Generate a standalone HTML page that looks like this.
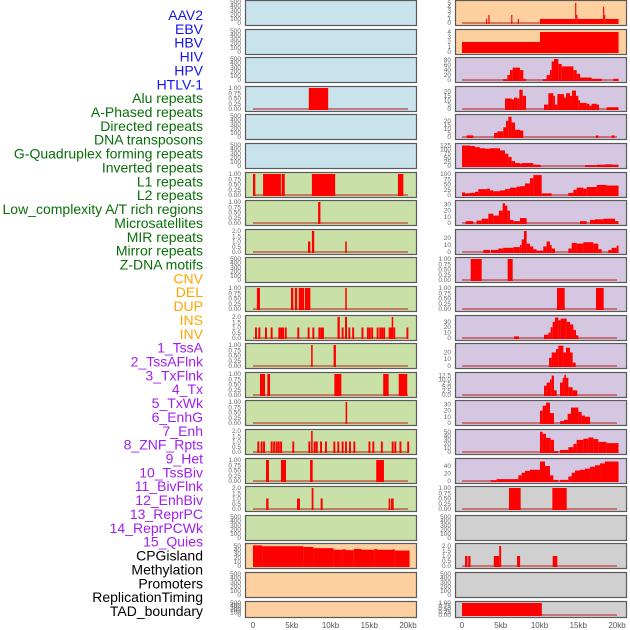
<!DOCTYPE html>
<html><head><meta charset="utf-8"><style>
html,body{margin:0;padding:0;background:#fff;}
svg{display:block;font-family:"Liberation Sans",sans-serif;}
</style></head><body>
<svg id="chart" width="630" height="630" viewBox="0 0 630 630"></svg>
<script>
const labelNames=["AAV2","EBV","HBV","HIV","HPV","HTLV-1","Alu repeats","A-Phased repeats","Directed repeats","DNA transposons","G-Quadruplex forming repeats","Inverted repeats","L1 repeats","L2 repeats","Low_complexity A/T rich regions","Microsatellites","MIR repeats","Mirror repeats","Z-DNA motifs","CNV","DEL","DUP","INS","INV","1_TssA","2_TssAFlnk","3_TxFlnk","4_Tx","5_TxWk","6_EnhG","7_Enh","8_ZNF_Rpts","9_Het","10_TssBiv","11_BivFlnk","12_EnhBiv","13_ReprPC","14_ReprPCWk","15_Quies","CPGisland","Methylation","Promoters","ReplicationTiming","TAD_boundary"];
const labelGroups=[6,13,5,15,5];
const groupColors=["#1515f0","#0a6e0a","#ffa500","#a020f0","#000000"];
const xTickLabels=["0","5kb","10kb","15kb","20kb"];
const xTickValues=[0,5,10,15,20];
const leftBg=["#c8e3eb","#c8e3eb","#c8e3eb","#c8e3eb","#c8e3eb","#c8e3eb","#c9e1a6","#c9e1a6","#c9e1a6","#c9e1a6","#c9e1a6","#c9e1a6","#c9e1a6","#c9e1a6","#c9e1a6","#c9e1a6","#c9e1a6","#c9e1a6","#c9e1a6","#fecf9f","#fecf9f","#fecf9f"];
const rightBg=["#fecf9f","#fecf9f","#d5c6e2","#d5c6e2","#d5c6e2","#d5c6e2","#d5c6e2","#d5c6e2","#d5c6e2","#d5c6e2","#d5c6e2","#d5c6e2","#d5c6e2","#d5c6e2","#d5c6e2","#d5c6e2","#d5c6e2","#d0d0d0","#d0d0d0","#d0d0d0","#d0d0d0","#d0d0d0"];
const E=null;
const leftMax=[E,E,E,1,E,E,1,1,2,E,1,2,1,1,1,2,1,2,E,53,E,E];
const leftTicks=[E,E,E,[0,0.25,0.5,0.75,1],E,E,[0,0.25,0.5,0.75,1],[0,0.25,0.5,0.75,1],[0,0.5,1,1.5,2],E,[0,0.25,0.5,0.75,1],[0,0.5,1,1.5,2],[0,0.25,0.5,0.75,1],[0,0.25,0.5,0.75,1],[0,0.25,0.5,0.75,1],[0,0.5,1,1.5,2],[0,0.25,0.5,0.75,1],[0,0.5,1,1.5,2],E,[0,10,20,30,40,50],E,E];
function spikes(list,v){return list.map(p=>[p,p+0.25,v]);}
const leftData=[[],[],[],[[7.2,9.7,1]],[],[],
[[0,0.3,1],[1.3,3.6,1],[3.7,4.1,1],[7.6,10.6,1],[18.7,19.4,1]],
[[8.4,8.7,1]],
[[7.1,7.4,1],[7.6,7.9,2],[11.9,12.1,1]],
[],
[[0.5,0.9,1],[4.9,5.2,1],[5.4,5.7,1],[5.9,6.6,1],[6.7,7.4,1],[11.9,12.1,1]],
spikes([0.26,0.69,1.55,2.28,3.27,3.5,3.75,4.1,5.72,7.05,7.66,8.44,8.7,8.9,11.44,12.3,12.8,14.0,14.7,14.95,15.25,15.96,16.3,16.55,16.8,17.5,17.75,18.1,19.8],1).concat([[10.9,11.2,2],[11.87,12.13,2],[17.9,18.1,2]]),
[[7.5,7.7,1],[10.4,10.7,1]],
[[0.9,1.55,1],[1.85,2.2,1],[10.5,11.4,1],[16.8,17.5,1],[18.8,19.9,1]],
[[11.95,12.15,1]],
spikes([0.56,0.99,1.3,2.28,2.6,2.92,3.2,3.5,5.07,7.14,7.83,8.1,8.65,9.29,10.37,10.88,11.44,11.87,12.39,12.95,14.9,15.4,16.5,17.9,18.24,18.9,19.9],1).concat([[7.5,7.7,2]]),
[[1.68,2.06,1],[3.61,4.26,1],[7.36,7.7,1],[15.9,16.9,1]],
[[1.7,2.0,1],[5.68,6.06,1],[7.57,7.8,2],[8.73,8.99,1],[17.5,17.7,1],[17.8,18.15,1]],
[],
[[0,1.2,52],[1.2,6.5,50],[6.5,7.8,48],[7.8,10.4,45],[10.4,11.5,41],[11.5,12,42],[12,13,40],[13,14,43],[14,15.7,41],[15.7,16,43],[16,18,41],[18,18.3,42],[18.3,20.2,39]],
[],[]];
const rightMax=[5.2,4.2,85,24,26,128,100,34,30,1,1,39,31,13.5,34,52,56,1,E,2.1,E,1];
const rightTicks=[[0,1,2,3,4,5],[0,1,2,3,4],[0,20,40,60,80],[0,5,10,15,20],[0,5,10,15,20],[0,25,50,75,100,125],[0,25,50,75,100],[0,10,20,30],[0,10,20],[0,0.25,0.5,0.75,1],[0,0.25,0.5,0.75,1],[0,10,20,30],[0,10,20],[0,2.5,5,7.5,10,12.5],[0,10,20,30],[0,10,20,30,40,50],[0,20,40],[0,0.25,0.5,0.75,1],E,[0,0.5,1,1.5,2],E,[0,0.25,0.5,0.75,1]];
const rightData=[
[[3.1,3.25,1],[3.4,3.55,2],[6.35,6.5,2],[7.2,7.35,1],[10.06,14.6,1],[14.6,14.75,5],[14.75,14.9,2],[14.9,18.2,1],[18.2,18.35,4],[18.35,18.5,2],[18.5,20.2,1]],
[[0,10.06,2],[10.06,20.2,4]],
[[5.33,5.85,3],[5.85,6.19,20],[6.19,6.54,40],[6.54,7.48,50],[7.48,7.91,40],[7.91,8.26,5],[10.41,10.92,3],[10.92,11.35,20],[11.35,11.57,40],[11.57,11.87,75],[11.87,12.43,85],[12.43,12.86,65],[12.86,14.37,55],[14.37,14.8,40],[14.8,15.23,25],[15.23,16.73,10],[16.73,18.02,5],[19.53,20.2,5]],
[[5.55,6.4,12],[6.4,6.71,11],[6.71,7.14,13],[7.14,7.4,12],[7.4,7.83,22],[7.83,8.26,15],[10.58,11.14,5],[11.14,11.78,18],[11.78,12.0,15],[12.0,12.3,5],[12.3,13.16,17],[13.16,13.42,13],[13.42,13.94,18],[13.94,14.19,15],[14.19,14.71,21],[14.71,15.01,15],[15.01,15.23,10],[15.23,16.09,7],[16.09,16.43,6],[16.43,16.73,4],[16.73,17.38,6],[17.38,17.68,5],[18.67,20.2,2]],
[[0.6,1.46,2],[4.13,4.56,5],[4.56,5.33,7],[5.33,5.68,12],[5.68,5.98,20],[5.98,6.4,25],[6.4,6.84,18],[6.84,7.48,9],[7.48,7.91,8],[17.29,17.59,2],[19.31,19.66,2]],
[[0,1.03,125],[1.03,1.68,122],[1.68,2.32,115],[2.32,2.97,108],[2.97,3.61,105],[3.61,4.9,108],[4.9,5.55,95],[5.55,5.98,75],[5.98,6.4,55],[6.4,6.84,30],[6.84,7.48,18],[7.48,7.7,15],[7.7,9.2,18],[9.2,10.06,8],[10.06,10.19,4],[15.87,17.38,5],[17.38,18.45,8],[18.45,19.44,10],[19.44,20.2,8]],
[[0,0.39,12],[0.39,1.03,8],[1.03,1.68,10],[1.68,2.1,15],[2.1,3.18,28],[3.18,3.61,30],[3.61,4.04,22],[4.04,4.9,18],[4.9,5.55,22],[5.55,6.19,28],[6.19,7.05,35],[7.05,7.48,40],[7.48,8.13,42],[8.13,8.77,55],[8.77,9.2,80],[9.2,10.28,95],[10.28,11.57,8],[13.72,14.37,10],[14.37,14.8,25],[14.8,15.66,35],[15.66,16.09,30],[16.09,17.38,38],[17.38,18.67,48],[18.67,20.2,45]],
[[0.47,1.46,3],[1.89,2.54,4],[2.54,3.4,7],[3.4,4.04,15],[4.04,4.77,12],[4.77,5.25,20],[5.25,5.55,32],[5.55,5.85,28],[5.85,6.19,20],[6.19,6.62,5],[6.62,7.48,3],[7.48,8.34,8],[15.23,16.09,3],[16.52,17.16,5],[17.16,18.24,6],[18.24,19.74,7],[19.74,20.2,3]],
[[2.75,3.61,3],[3.74,4.69,3],[4.69,5.33,5],[5.33,6.62,6],[6.62,7.48,7],[7.48,7.7,10],[7.7,8.0,18],[8.0,8.34,30],[8.34,8.77,12],[8.77,9.2,8],[9.2,9.63,4],[9.63,10.49,2],[10.49,10.92,8],[10.92,11.35,15],[11.35,11.57,10],[11.57,12.0,5],[13.72,14.15,5],[14.15,14.8,13],[14.8,15.66,12],[15.66,16.95,14],[16.95,17.59,12],[17.59,18.02,4],[18.88,19.31,3],[19.31,19.96,6],[19.96,20.2,9]],
[[1.12,2.54,1],[5.89,6.54,1]],
[[12.26,13.25,1],[17.29,18.28,1]],
[[6.71,7.35,3],[10.58,11.14,6],[11.14,11.44,10],[11.44,11.7,20],[11.7,12.0,30],[12.0,12.43,38],[12.43,12.73,33],[12.73,13.51,36],[13.51,13.94,30],[13.94,14.37,25],[14.37,14.71,15],[14.71,15.01,5]],
[[11.23,11.57,12],[11.57,12.13,20],[12.13,12.43,25],[12.43,13.08,30],[13.08,13.42,20],[13.42,13.94,27],[13.94,14.28,20],[14.28,14.67,5]],
[[10.58,10.92,6],[10.92,11.35,8],[11.35,11.57,10],[11.57,11.87,12.5],[11.87,12.22,3],[12.65,12.99,8],[12.99,13.2,11],[13.2,13.42,13],[13.42,13.72,11],[13.72,14.28,5],[14.28,14.88,3]],
[[10.06,10.41,20],[10.41,10.84,28],[10.84,11.35,33],[11.35,11.87,16],[12.65,13.16,3],[13.16,13.63,5],[13.63,14.06,15],[14.06,15.01,25],[15.01,15.44,18],[15.44,15.87,12],[15.87,16.52,10]],
[[10.06,10.41,50],[10.41,10.84,45],[10.84,11.44,35],[11.44,11.87,30],[11.87,12.43,2],[12.65,13.72,5],[13.72,14.37,12],[14.37,14.8,20],[14.8,15.66,30],[15.66,16.3,33],[16.3,16.95,36],[16.95,17.59,32],[17.59,18.67,25],[18.67,20.2,22]],
[[3.7,4.47,2],[4.47,7.27,5],[7.27,7.7,15],[7.7,8.13,22],[8.13,8.77,27],[8.77,10.06,30],[10.06,10.71,52],[10.71,11.35,40],[11.35,11.78,15],[11.78,12.43,3],[12.65,13.72,3],[13.72,14.15,12],[14.15,14.58,22],[14.58,15.23,28],[15.23,15.87,30],[15.87,16.52,33],[16.52,17.16,38],[17.16,17.81,42],[17.81,18.45,47],[18.45,20.2,52]],
[[6.06,7.57,1],[11.66,13.51,1]],
[],
[[0.39,0.7,1],[0.8,1.1,1],[4.1,4.8,1],[4.8,5.05,2],[7.1,7.5,1],[11.7,12.3,1]],
[],
[[0,10.3,1]]];

const NS="http://www.w3.org/2000/svg";
const svg=document.getElementById('chart');
function mk(tag,attrs,parent){const e=document.createElementNS(NS,tag);for(const k in attrs)e.setAttribute(k,attrs[k]);(parent||svg).appendChild(e);return e;}
const PITCH=28.6, PH=25;
const cols=[{px:245,pw:171,x0:253,bg:leftBg,max:leftMax,ticks:leftTicks,data:leftData,side:'left'},
            {px:455,pw:171,x0:462,bg:rightBg,max:rightMax,ticks:rightTicks,data:rightData,side:'right'}];
function xScale(col,kb){return col.x0+kb*7.75;}
function fmt(t,ticks){const step=ticks.length>1?ticks[1]-ticks[0]:1;if(step===0.25)return t.toFixed(2);if(step===0.5||step===2.5)return t.toFixed(1);return String(t);}
for(let r=0;r<22;r++){
  const top=Math.round(r*PITCH)+0.5;
  const h=r===21?16:PH;
  cols.forEach(col=>{
    const g=mk('g',{});
    
    
    const bg=mk('rect',{x:col.px+0.5,y:top,width:col.pw,height:h,fill:col.bg[r],stroke:'#5a5a5a','stroke-width':1.2},g);
    
    
    const empty=col.max[r]===null;
    const ymax=empty?500:col.max[r];
    const ticks=empty?[0,100,200,300,400,500]:col.ticks[r];
    const yTop=top+1.5, yBot=top+h-2.5;
    const yScale=v=>yBot-(v/ymax)*(yBot-yTop);
    ticks.forEach(t=>{
      const tx=mk('text',{x:col.px-4,y:yScale(t)+2,'text-anchor':'end','font-size':'6.5px',fill:'#666'},g);
      tx.textContent=fmt(t,ticks);
      
      
    });
    if(!empty){
      const bl=mk('rect',{x:xScale(col,0),y:yBot-1,width:xScale(col,20)-xScale(col,0),height:2,fill:'rgba(190,40,40,0.55)'},g);
      
      
    }
    col.data[r].forEach(s=>{
      const x1=xScale(col,s[0]),x2=xScale(col,s[1]);
      const b=mk('rect',{x:x1,y:yScale(s[2]),width:Math.max(1,x2-x1),height:yBot-yScale(s[2])+1,fill:'#ff0000'},g);
      
      
    });
  });
}
cols.forEach(col=>{
  xTickValues.forEach((v,i)=>{
    const t=mk('text',{x:xScale(col,v),y:628,'text-anchor':'middle','font-size':'8px',fill:'#555'});
    t.textContent=xTickLabels[i];
    
    
  });
});
let k=0;
labelGroups.forEach((n,gi)=>{
  for(let j=0;j<n;j++){
    const t=mk('text',{x:203,y:15+k*13.86+5,'text-anchor':'end','font-size':'14px',fill:groupColors[gi]});
    t.textContent=labelNames[k];
    
    
    k++;
  }
});
</script>
</body></html>
